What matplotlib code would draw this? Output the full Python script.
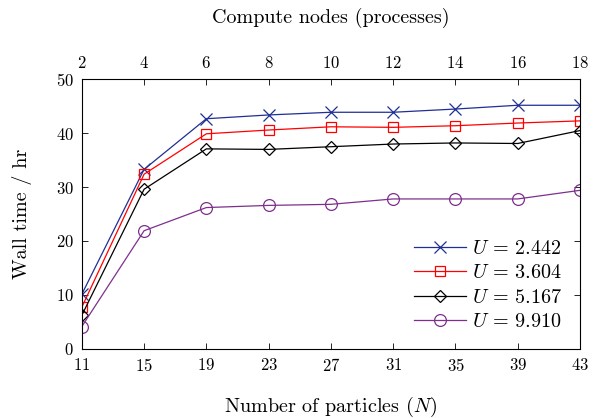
import matplotlib
matplotlib.use('Agg')
import matplotlib.pyplot as plt

# data
particles = [11, 15, 19, 23, 27, 31, 35, 39, 43]
nodes = [2, 4, 6, 8, 10, 12, 14, 16, 18]
u_labels = ['2.442', '3.604', '5.167', '9.910']
t_u2442 = [10.1, 33.3, 42.7, 43.4, 43.9, 43.9, 44.5, 45.2, 45.2]
t_u3604 = [7.7, 32.4, 39.9, 40.6, 41.2, 41.1, 41.4, 41.9, 42.3]
t_u5167 = [6.2, 29.6, 37.1, 37.0, 37.5, 38.0, 38.2, 38.1, 40.5]
t_u9910 = [4.1, 21.9, 26.2, 26.6, 26.8, 27.8, 27.8, 27.8, 29.4]

plt.rcParams['font.family'] = 'serif'
plt.rcParams['font.serif'] = ['cmr10']
plt.rcParams['mathtext.fontset'] = 'cm'
plt.rcParams['axes.formatter.use_mathtext'] = True

fig = plt.figure(figsize=(5.93, 4.18), dpi=100)
ax = fig.add_axes([0.138, 0.166, 0.840, 0.644])

series = [t_u2442, t_u3604, t_u5167, t_u9910]
colors = ['#1f2f94', '#ff0000', '#000000', '#7e2f8e']
markers = ['x', 's', 'D', 'o']
msizes = [8, 7.5, 6.5, 8.5]
for ys, lab, c, m, ms in zip(series, u_labels, colors, markers, msizes):
    ax.plot(particles, ys, color=c, marker=m, markersize=ms, markerfacecolor='none',
            markeredgecolor=c, markeredgewidth=0.9, linewidth=0.9,
            label=r'$U$ = ' + lab)

ax.set_xlim(11, 43)
ax.set_ylim(0, 50)
ax.set_xticks(particles)
ax.set_yticks([0, 10, 20, 30, 40, 50])
ax.tick_params(direction='in', labelsize=12, length=4, width=0.6, pad=6,
               top=False, right=True)
ax.set_xlabel(r'Number of particles ($N$)', fontsize=14.5, labelpad=15)
ax.set_ylabel('Wall time / hr', fontsize=14.5, labelpad=17)
for s in ax.spines.values():
    s.set_linewidth(0.6)

ax2 = ax.twiny()
ax2.set_xlim(2, 18)
ax2.set_xticks(nodes)
ax2.tick_params(direction='in', labelsize=12, length=4, width=0.6, pad=6)
ax2.set_xlabel('Compute nodes (processes)', fontsize=14.5, labelpad=23)

ax.legend(loc='lower right', frameon=False, fontsize=14.5, handlelength=2.6,
          borderaxespad=0.45, labelspacing=0.32, handletextpad=0.3)

fig.savefig('out.png', dpi=100)
